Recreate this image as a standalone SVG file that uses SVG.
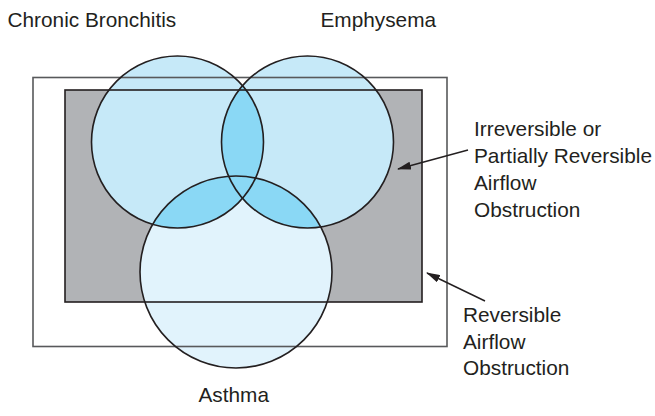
<svg xmlns="http://www.w3.org/2000/svg" width="655" height="416" viewBox="0 0 655 416">
  <style>
    text { font-family: "Liberation Sans", Arial, sans-serif; font-size: 20.8px; fill: #231f20; }
    .ln { fill: none; stroke: #231f20; stroke-width: 1.6; }
    .outer { fill: none; stroke: #58595b; stroke-width: 1.6; }
    .cbe { fill: #c6e9f8; }
    .ast { fill: #e1f3fc; }
    .ovl { fill: #8ad8f5; }
    .arrow { stroke: #231f20; stroke-width: 1.4; fill: none; marker-end: url(#ah); }
  </style>
  <defs>
    <marker id="ah" viewBox="0 0 14 8" refX="13" refY="4" markerWidth="14" markerHeight="8" markerUnits="userSpaceOnUse" orient="auto">
      <path d="M0,0 L14,4 L0,8 Z" fill="#231f20"/>
    </marker>
    <clipPath id="clipCB"><circle cx="177.5" cy="142" r="86"/></clipPath>
    <clipPath id="clipE"><circle cx="307.5" cy="142" r="86"/></clipPath>
  </defs>
  <rect width="655" height="416" fill="#ffffff"/>

  <g id="partially-reversible-area">
    <rect x="65" y="90" width="357" height="212" fill="#b1b3b6"/>
  </g>

  <g id="chronic-bronchitis">
    <circle class="cbe" cx="177.5" cy="142" r="86"/>
    <text x="7.5" y="26.7">Chronic Bronchitis</text>
  </g>
  <g id="emphysema">
    <circle class="cbe" cx="307.5" cy="142" r="86"/>
    <text x="320.5" y="26.7">Emphysema</text>
  </g>
  <g id="asthma">
    <circle class="ast" cx="236" cy="272" r="96"/>
    <text x="198.5" y="402">Asthma</text>
  </g>

  <g id="overlaps">
    <circle class="ovl" cx="307.5" cy="142" r="86" clip-path="url(#clipCB)"/>
    <circle class="ovl" cx="236" cy="272" r="96" clip-path="url(#clipCB)"/>
    <circle class="ovl" cx="236" cy="272" r="96" clip-path="url(#clipE)"/>
  </g>

  <g id="outlines">
    <rect class="outer" x="33" y="77.5" width="414" height="269"/>
    <rect class="ln" x="65" y="90" width="357" height="212"/>
    <circle class="ln" cx="177.5" cy="142" r="86"/>
    <circle class="ln" cx="307.5" cy="142" r="86"/>
    <circle class="ln" cx="236" cy="272" r="96"/>
  </g>

  <g id="connectors">
    <line class="arrow" x1="468" y1="150" x2="398" y2="169"/>
    <line class="arrow" x1="485" y1="301" x2="427" y2="273"/>
  </g>

  <g id="irreversible-label">
    <text x="474" y="136">Irreversible or</text>
    <text x="474" y="163">Partially Reversible</text>
    <text x="474" y="190">Airflow</text>
    <text x="474" y="217">Obstruction</text>
  </g>
  <g id="reversible-label">
    <text x="463" y="322">Reversible</text>
    <text x="463" y="348.5">Airflow</text>
    <text x="463" y="375">Obstruction</text>
  </g>
</svg>
